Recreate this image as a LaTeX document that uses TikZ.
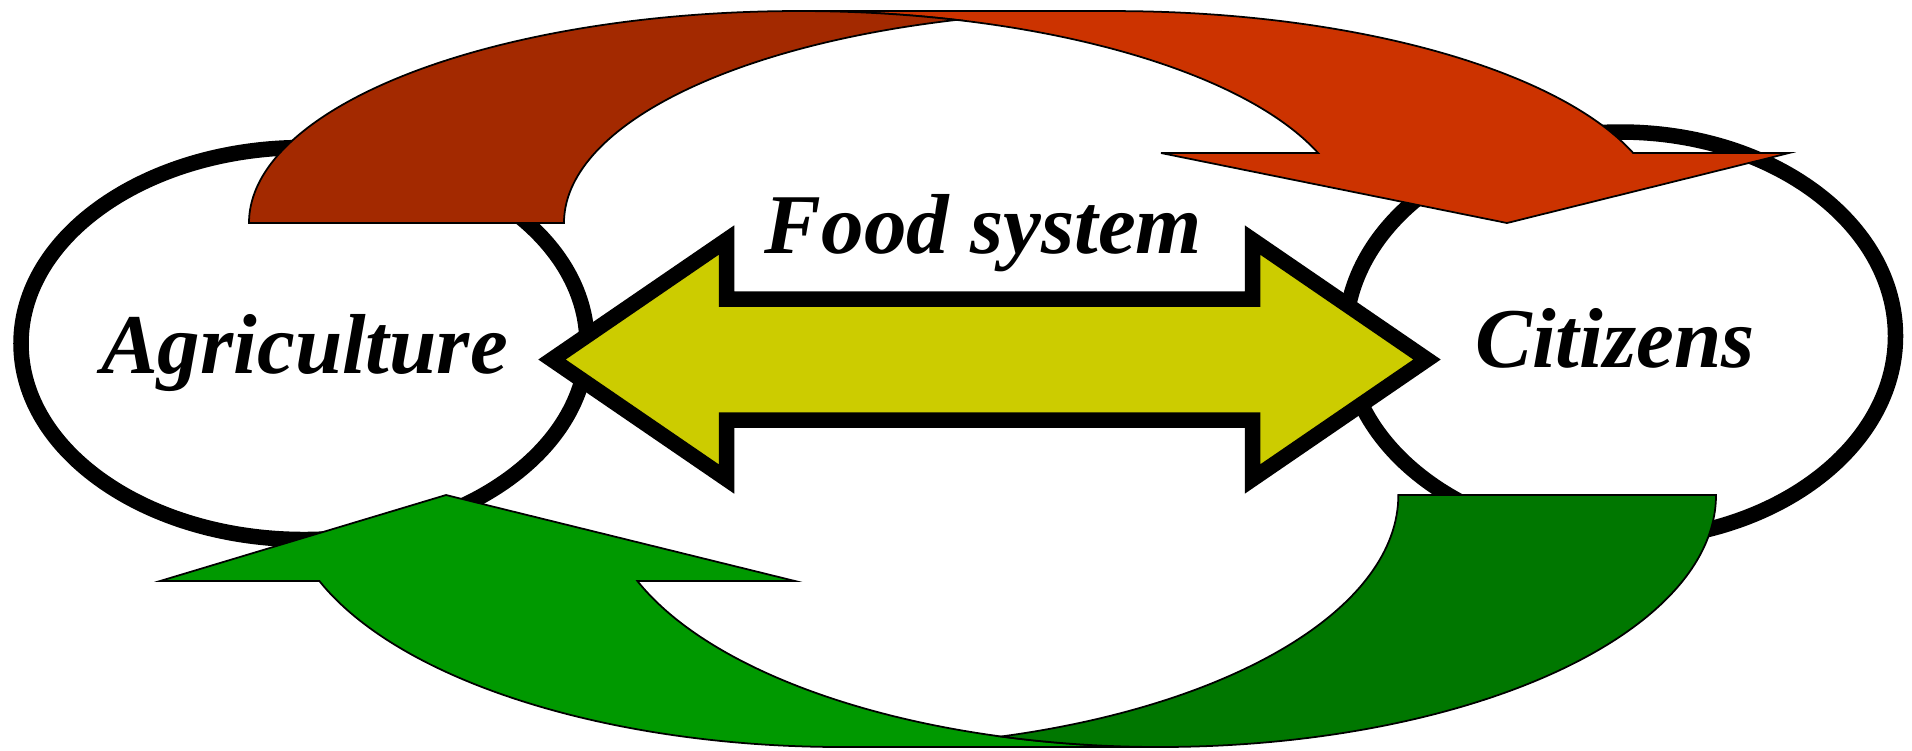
\documentclass[tikz,border=0pt]{standalone}
\usepackage{fontspec}
\setmainfont{Liberation Serif}
\usepackage{tikz}
\usepackage{xcolor}
\usetikzlibrary{positioning}
\definecolor{BandBrown}{RGB}{163,41,0}
\definecolor{BandRed}{RGB}{204,51,0}
\definecolor{BandGreen}{RGB}{0,153,0}
\definecolor{BandDark}{RGB}{0,119,0}
\definecolor{SwapYellow}{RGB}{204,204,0}
\tikzset{
  actor/.style={draw=black,fill=white,line width=0.155cm},
  band/.style={draw=black,line width=0.5pt,line join=miter},
  swap/.style={draw=black,fill=SwapYellow,line width=0.155cm,line join=miter},
  actorname/.style={font=\bfseries\itshape\fontsize{24.2}{29}\selectfont,inner sep=0pt,anchor=base}
}

\begin{document}
\begin{tikzpicture}[x=0.01cm,y=0.01cm,yscale=-1]
        \useasboundingbox (0,0) rectangle (1912,750);
        \foreach \cx/\cy/\rx/\ry in {304/343.5/283/196, 1620.5/336/275/204}{
          \draw[actor] (\cx,\cy) ellipse[x radius=\rx,y radius=\ry];
        }
        % Upper band, front part with head
        \filldraw[band,fill=BandRed] (799,11)
          arc[start angle=270,end angle=340.7,x radius=550,y radius=212]
          -- (1161,153) -- (1507,223) -- (1789,153) -- (1633.2,153)
          arc[start angle=340.7,end angle=270,x radius=550,y radius=212] -- cycle;
        % Upper band, back part
        \filldraw[band,fill=BandBrown] (249,223)
          arc[start angle=180,end angle=286.64,x radius=550,y radius=212]
          arc[start angle=253.36,end angle=180,x radius=550,y radius=212] -- cycle;
        % Lower band, front part with head
        \filldraw[band,fill=BandGreen] (842,747)
          arc[start angle=90,end angle=160.04,x radius=556,y radius=252]
          -- (160,581) -- (446,495) -- (795,581) -- (637.4,581)
          arc[start angle=160.04,end angle=90,x radius=556,y radius=252] -- cycle;
        % Lower band, back part
        \filldraw[band,fill=BandDark] (1716,495)
          arc[start angle=0,end angle=106.6,x radius=556,y radius=252]
          arc[start angle=73.4,end angle=0,x radius=556,y radius=252] -- cycle;
        % Exchange arrow
        \draw[swap] (552,359.5) -- (726.5,240) -- (726.5,299) -- (1252.5,299)
          -- (1252.5,240) -- (1427,359.5) -- (1252.5,479) -- (1252.5,420)
          -- (726.5,420) -- (726.5,479) -- cycle;
        \node[actorname] (agri) at (304.5,373) {Agriculture};
        \node[actorname] (citizens) at (1615,367) {Citizens};
        \node[actorname] (foodsys) at (983.5,253) {Food system};
      \end{tikzpicture}
\end{document}
